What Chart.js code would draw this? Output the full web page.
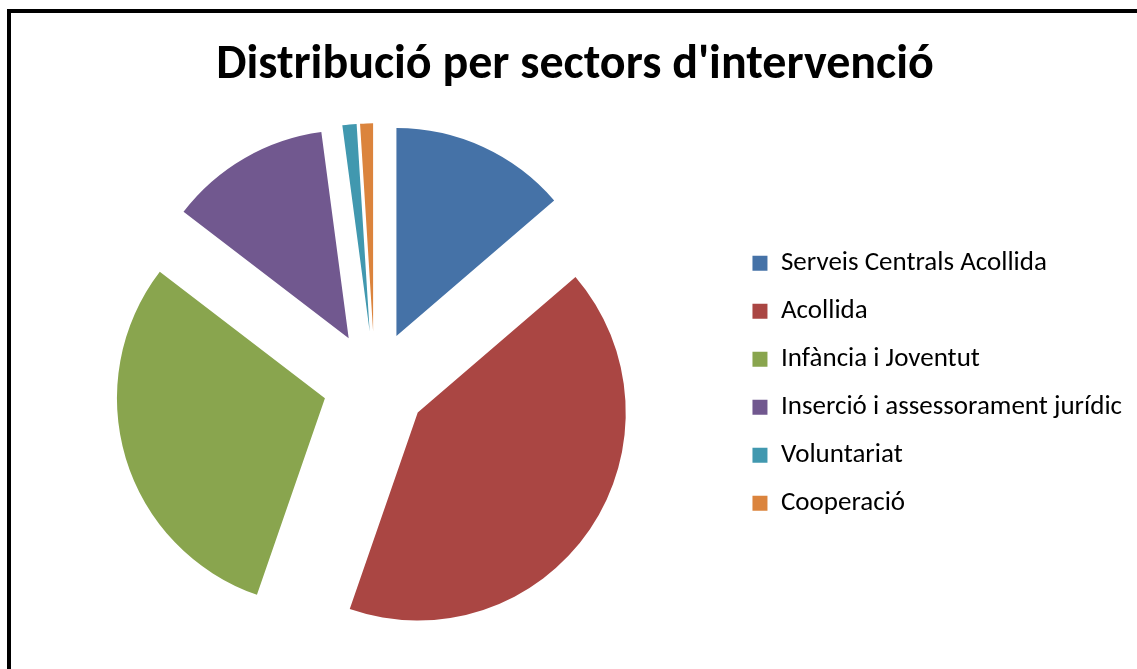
<!DOCTYPE html>
<html lang="ca">
  <head>
    <meta charset="UTF-8">
    <title>Distribució per sectors d'intervenció</title>
    <script src="https://cdn.jsdelivr.net/npm/chart.js"></script>
    <style>
      body {
        margin: 0;
        padding: 0;
        background-color: #ffffff;
        overflow: hidden;
        width: 1137px;
        height: 669px;
        position: relative;
      }

      .frame {
        position: absolute;
        left: 7px;
        top: 9px;
        width: 1200px;
        height: 700px;
        border-left: 4px solid #000;
        border-top: 4px solid #000;
      }

      .chart-container {
        position: absolute;
        left: 4px;
        top: 13px;
        width: 1145px;
        height: 680px;
      }
    </style>
  </head>

  <body>
    <div class="frame"></div>
    <div class="chart-container">
      <canvas id="sectorsChart"></canvas>
    </div>

    <script>
      // Dades llegides del gràfic (percentatge aproximat per sector)
      const sectors = [
        'Serveis Centrals Acollida',
        'Acollida',
        'Infància i Joventut',
        'Inserció i assessorament jurídic',
        'Voluntariat',
        'Cooperació'
      ];
      const valors = [13.7, 41.6, 30.1, 12.5, 1.1, 1.0];
      const colors = ['#4572A7', '#AA4643', '#89A54E', '#71588F', '#4198AF', '#DB843D'];

      const fontFamily = 'Carlito, Lato, "Open Sans", sans-serif';
      const explode = 52; // separació de cada porció respecte al centre (px)

      // Separa totes les porcions per igual al llarg de la seva bisectriu
      // (l'opció "offset" de Chart.js escurça massa les porcions petites)
      const explodePlugin = {
        id: 'explode',
        beforeDatasetsDraw(chart) {
          const { left, right, top, bottom } = chart.chartArea;
          const cx = (left + right) / 2;
          const cy = (top + bottom) / 2;
          chart.getDatasetMeta(0).data.forEach(arc => {
            const mid = (arc.startAngle + arc.endAngle) / 2;
            arc.x = cx + Math.cos(mid) * explode;
            arc.y = cy + Math.sin(mid) * explode;
          });
        },
      };

      const ctx = document.getElementById('sectorsChart').getContext('2d');
      new Chart(ctx, {
        type: 'pie',
        data: {
          labels: sectors,
          datasets: [{
            data: valors,
            backgroundColor: colors,
            borderWidth: 0,
            radius: 208,
          }],
        },
        options: {
          responsive: true,
          maintainAspectRatio: false,
          animation: false,
          layout: {
            padding: { left: 14, right: 17, top: 0, bottom: 31 },
          },
          plugins: {
            title: {
              display: true,
              text: "Distribució per sectors d'intervenció",
              color: '#000000',
              font: { family: fontFamily, size: 48, weight: 'bold' },
              padding: { top: 24, bottom: 10 },
            },
            legend: {
              position: 'right',
              fullSize: false,
              labels: {
                color: '#000000',
                boxWidth: 15,
                boxHeight: 15,
                padding: 21,
                font: { family: fontFamily, size: 27 },
              },
            },
            tooltip: { enabled: false },
          },
        },
        plugins: [explodePlugin],
      });
    </script>
  </body>
</html>
